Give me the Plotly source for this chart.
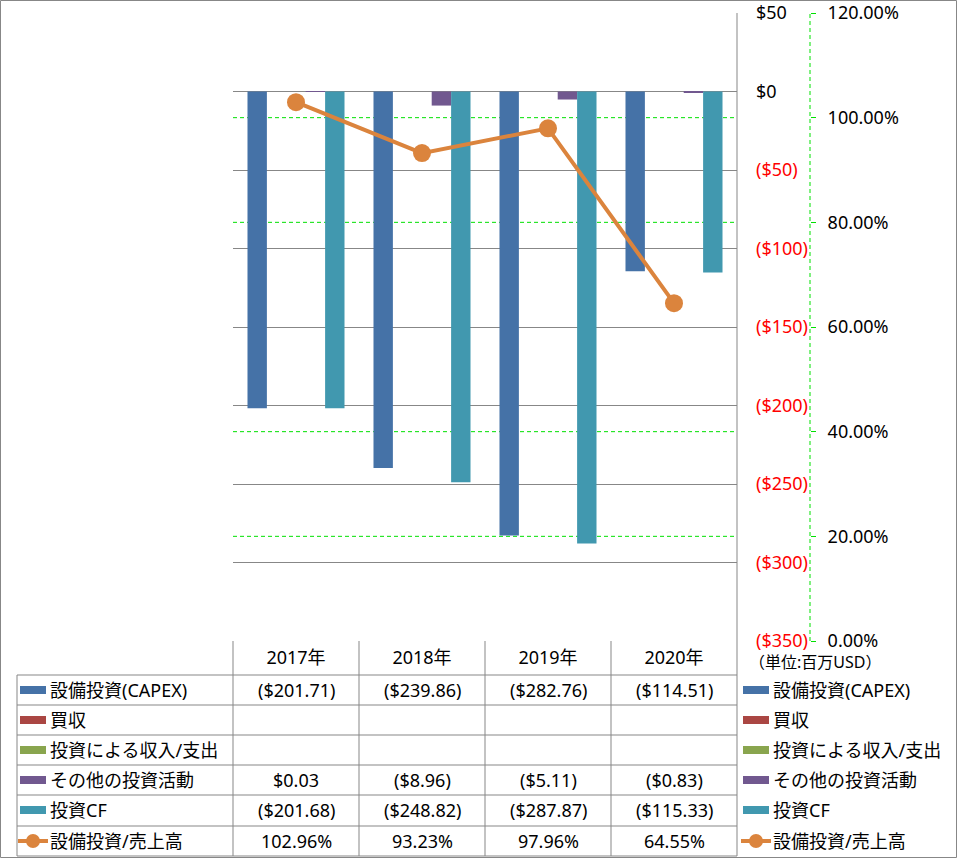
import plotly.graph_objects as go

W, H = 957, 858

years = ["2017年", "2018年", "2019年", "2020年"]
capex = [-201.71, -239.86, -282.76, -114.51]
acquisition = [None, None, None, None]
inv_income = [None, None, None, None]
other_inv = [0.03, -8.96, -5.11, -0.83]
inv_cf = [-201.68, -248.82, -287.87, -115.33]
capex_ratio = [1.0296, 0.9323, 0.9796, 0.6455]

usd_ticks = [50, 0, -50, -100, -150, -200, -250, -300, -350]
pct_ticks = [0, 0.2, 0.4, 0.6, 0.8, 1.0, 1.2]

bar_series = [
    ("設備投資(CAPEX)", capex, "#4572A7"),
    ("買収", acquisition, "#AA4643"),
    ("投資による収入/支出", inv_income, "#89A54E"),
    ("その他の投資活動", other_inv, "#71588F"),
    ("投資CF", inv_cf, "#4198AF"),
]
line_name = "設備投資/売上高"
line_color = "#DB843D"

FONT = "Noto Sans, Noto Sans CJK JP, sans-serif"
GRID = "#878787"
GREEN = "#00E000"
Y_RANGE = [-350, 50]
Y2_RANGE = [0, 1.2]


def px(x):
    return x / W


def py(y):
    return 1 - y / H


def fmt_usd(v, dec=2):
    if v is None:
        return ""
    s = f"${abs(v):.{dec}f}"
    return f"({s})" if v < 0 else s


def usd_tick(v):
    if v < 0:
        return f'<span style="color:red">{fmt_usd(v, 0)}</span>'
    return fmt_usd(v, 0)


def on_primary_grid(v):
    # secondary value mapped onto the primary scale
    p = Y_RANGE[0] + (v - Y2_RANGE[0]) / (Y2_RANGE[1] - Y2_RANGE[0]) * (Y_RANGE[1] - Y_RANGE[0])
    return any(abs(p - t) < 1e-6 for t in usd_ticks)


fig = go.Figure()

for name, vals, color in bar_series:
    fig.add_trace(go.Bar(
        x=years, y=vals, name=name,
        marker=dict(color=color, line=dict(width=0)),
        yaxis="y",
    ))

fig.add_trace(go.Scatter(
    x=years, y=capex_ratio, name=line_name,
    mode="lines+markers",
    line=dict(color=line_color, width=4),
    marker=dict(color=line_color, size=18),
    yaxis="y2",
))

shapes = []
annotations = []

# outer border
shapes.append(dict(type="rect", xref="paper", yref="paper",
                   x0=px(0.5), x1=px(956.5), y0=py(857.5), y1=py(0.5),
                   line=dict(color=GRID, width=1)))

# green dashed secondary grid (grey primary grid wins where they meet)
for v in pct_ticks:
    if on_primary_grid(v):
        continue
    shapes.append(dict(type="line", xref="paper", yref="y2",
                       x0=px(233), x1=px(737), y0=v, y1=v, layer="below",
                       line=dict(color=GREEN, width=1, dash="4px,3px")))

# right edge of plot area / table column lines
col_x = [233, 359, 485, 611, 737]
for cx in col_x:
    top = 13 if cx == 737 else 641
    shapes.append(dict(type="line", xref="paper", yref="paper",
                       x0=px(cx), x1=px(cx), y0=py(top), y1=py(856),
                       line=dict(color=GRID, width=1)))
shapes.append(dict(type="line", xref="paper", yref="paper",
                   x0=px(17), x1=px(17), y0=py(675), y1=py(856),
                   line=dict(color=GRID, width=1)))

row_lines = [675, 705, 735, 765, 795, 826, 856]
for ry in row_lines:
    shapes.append(dict(type="line", xref="paper", yref="paper",
                       x0=px(17), x1=px(737), y0=py(ry), y1=py(ry),
                       line=dict(color=GRID, width=1)))

# secondary axis dashed line
shapes.append(dict(type="line", xref="paper", yref="y2",
                   x0=px(810), x1=px(810), y0=pct_ticks[0], y1=pct_ticks[-1],
                   line=dict(color=GREEN, width=1, dash="4px,3px")))

# table rows + legend
row_centers = [690, 720, 750, 780, 810, 841]
all_series = bar_series + [(line_name, capex_ratio, line_color)]
for i, (name, vals, color) in enumerate(all_series):
    yc = row_centers[i]
    for kx in (19, 742):
        if i < len(bar_series):
            shapes.append(dict(type="rect", xref="paper", yref="paper",
                               x0=px(kx + 1), x1=px(kx + 27),
                               y0=py(yc + 4), y1=py(yc - 4),
                               fillcolor=color, line=dict(width=0)))
        else:
            shapes.append(dict(type="line", xref="paper", yref="paper",
                               x0=px(kx - 1), x1=px(kx + 29),
                               y0=py(yc), y1=py(yc),
                               line=dict(color=color, width=4)))
            shapes.append(dict(type="circle", xref="paper", yref="paper",
                               x0=px(kx + 7), x1=px(kx + 21),
                               y0=py(yc + 7), y1=py(yc - 7),
                               fillcolor=color, line=dict(width=0)))
        annotations.append(dict(x=px(kx + 29), y=py(yc), xref="paper", yref="paper",
                                text=name, showarrow=False, xanchor="left",
                                yanchor="middle", font=dict(size=18, color="#000")))
    for yr, v in zip(years, vals):
        if i < len(bar_series):
            txt = fmt_usd(v)
        else:
            txt = f"{v * 100:.2f}%"
        if txt:
            annotations.append(dict(x=yr, y=py(yc), xref="x", yref="paper",
                                    text=txt, showarrow=False, xanchor="center",
                                    yanchor="middle", font=dict(size=18, color="#000")))

annotations.append(dict(x=px(747), y=py(662), xref="paper", yref="paper",
                        text="（単位:百万USD）", showarrow=False, xanchor="left",
                        yanchor="middle", font=dict(size=16, color="#000")))

fig.update_layout(
    width=W, height=H,
    margin=dict(l=0, r=0, t=0, b=0, autoexpand=False),
    paper_bgcolor="white", plot_bgcolor="rgba(0,0,0,0)",
    font=dict(family=FONT, size=18, color="#000"),
    barmode="group", bargap=0.23, bargroupgap=0,
    showlegend=False,
    xaxis=dict(domain=[px(233), px(737)], showgrid=False, showline=False,
               zeroline=False, ticks="", tickfont=dict(size=18),
               ticklabelstandoff=4, automargin=False),
    yaxis=dict(domain=[py(641), py(13)], range=Y_RANGE,
               side="right", anchor="free", position=px(755),
               tickvals=usd_ticks, ticktext=[usd_tick(v) for v in usd_ticks],
               showgrid=True, gridcolor=GRID, gridwidth=1,
               zeroline=False, showline=False, ticks="",
               automargin=False),
    yaxis2=dict(overlaying="y", range=Y2_RANGE, side="right",
                anchor="free", position=px(810),
                tickvals=pct_ticks, tickformat=".2%",
                showgrid=False, zeroline=False, showline=False,
                ticks="outside", ticklen=5, tickcolor=GREEN,
                ticklabelstandoff=8, automargin=False),
    shapes=shapes,
    annotations=annotations,
)

fig.write_html("out.html", config={"displayModeBar": False},
               post_script="document.body.style.margin='0';")
